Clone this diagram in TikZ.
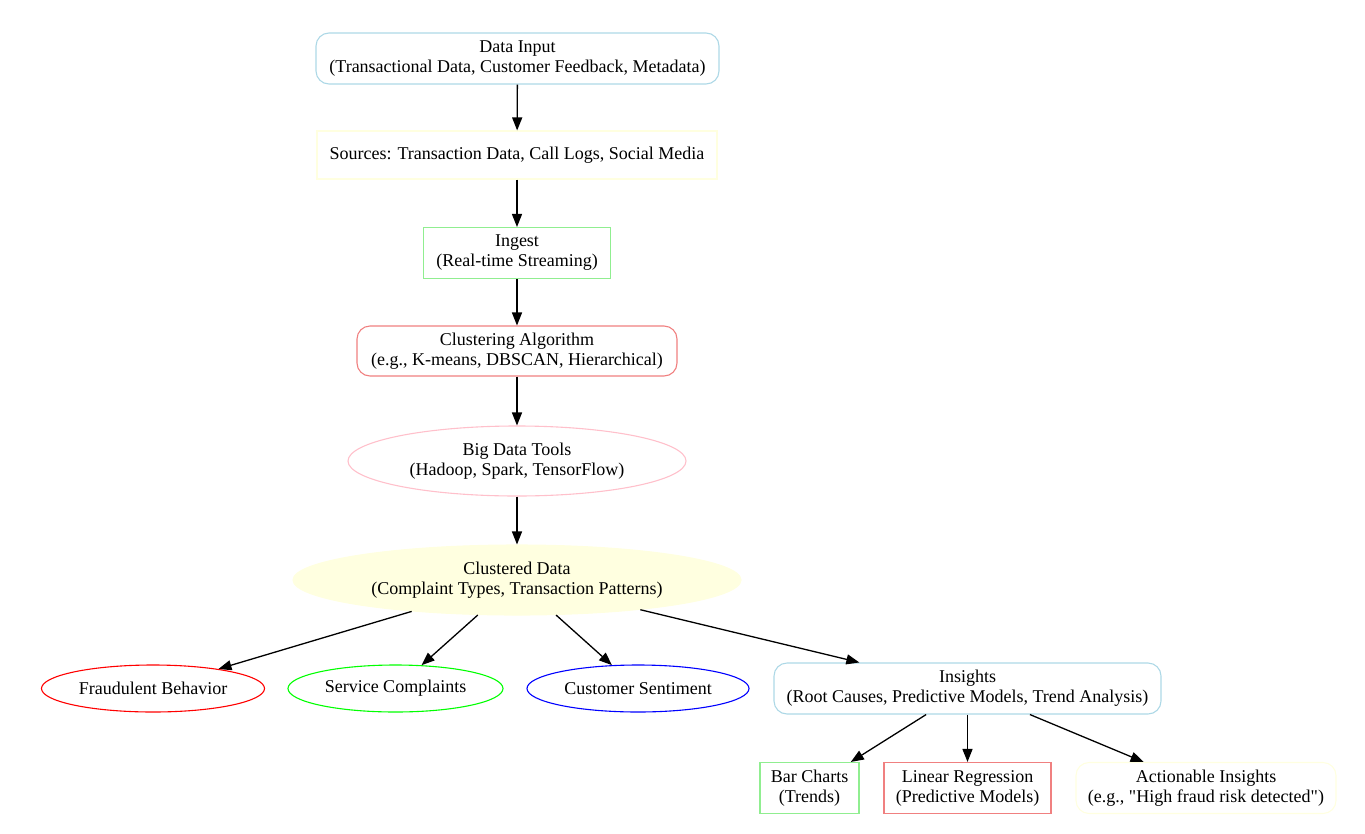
\documentclass[tikz,border=0pt]{standalone}
\usepackage{fontspec}
\setmainfont{Liberation Serif}[Ligatures=TeXOff]
\usetikzlibrary{arrows.meta,shapes.geometric}
\definecolor{gvlightblue}{HTML}{ADD8E6}
\definecolor{gvlightyellow}{HTML}{FFFFE0}
\definecolor{gvlightgreen}{HTML}{90EE90}
\definecolor{gvlightcoral}{HTML}{F08080}
\definecolor{gvpink}{HTML}{FFC0CB}
\definecolor{gvred}{HTML}{FF0000}
\definecolor{gvgreen}{HTML}{00FF00}
\definecolor{gvblue}{HTML}{0000FF}
\tikzset{
  base/.style={align=center,inner sep=0pt,line width=1.1pt,font=\fontsize{18}{20}\selectfont,text=black},
  rbox/.style={base,draw,rectangle,rounded corners=13pt},
  sbox/.style={base,draw,rectangle},
  ell/.style={base,draw,ellipse},
  edge/.style={line width=1.3pt,-{Triangle[length=13pt,width=10pt]}},
}
\begin{document}
\begin{tikzpicture}[x=1pt,y=-1pt]
\useasboundingbox (0,0) rectangle (1365,833);
\node[rbox,draw=gvlightblue,minimum width=403pt,minimum height=51pt] (input) at (517.5,58.5) {Data Input\\(Transactional Data, Customer Feedback, Metadata)};
\node[sbox,draw=gvlightyellow,minimum width=400pt,minimum height=48pt] (sources) at (517,155) {Sources: Transaction Data, Call Logs, Social Media};
\node[sbox,draw=gvlightgreen,minimum width=187pt,minimum height=51pt] (ingest) at (517,253) {Ingest\\(Real-time Streaming)};
\node[rbox,draw=gvlightcoral,minimum width=320pt,minimum height=50pt] (cluster) at (517,351) {Clustering Algorithm\\(e.g., K-means, DBSCAN, Hierarchical)};
\node[ell,draw=gvpink,minimum width=338pt,minimum height=70pt] (tools) at (517,461) {Big Data Tools\\(Hadoop, Spark, TensorFlow)};
\node[ell,draw=gvlightyellow,fill=gvlightyellow,minimum width=448pt,minimum height=70pt] (clustered) at (517,580) {Clustered Data\\(Complaint Types, Transaction Patterns)};
\node[ell,draw=gvred,minimum width=223pt,minimum height=47pt] (fraud) at (153,688.5) {Fraudulent Behavior};
\node[ell,draw=gvgreen,minimum width=215pt,minimum height=47pt] (service) at (395.5,688.5) {Service Complaints};
\node[ell,draw=gvblue,minimum width=222pt,minimum height=47pt] (sentiment) at (638,688.5) {Customer Sentiment};
\node[rbox,draw=gvlightblue,minimum width=387pt,minimum height=51pt] (insights) at (967.5,688.5) {Insights\\(Root Causes, Predictive Models, Trend Analysis)};
\node[sbox,draw=gvlightgreen,minimum width=99pt,minimum height=51pt] (bar) at (809.5,788) {Bar Charts\\(Trends)};
\node[sbox,draw=gvlightcoral,minimum width=167pt,minimum height=51pt] (linreg) at (967.5,788) {Linear Regression\\(Predictive Models)};
\node[rbox,draw=gvlightyellow,minimum width=260pt,minimum height=51pt] (action) at (1206,788) {Actionable Insights\\(e.g., "High fraud risk detected")};
\draw[edge] (input) -- (sources);
\draw[edge] (sources) -- (ingest);
\draw[edge] (ingest) -- (cluster);
\draw[edge] (cluster) -- (tools);
\draw[edge] (tools) -- (clustered);
\draw[edge] (clustered) -- (fraud);
\draw[edge] (clustered) -- (service);
\draw[edge] (clustered) -- (sentiment);
\draw[edge] (clustered) -- (insights);
\draw[edge] (insights) -- (bar);
\draw[edge] (insights) -- (linreg);
\draw[edge] (insights) -- (action);
\end{tikzpicture}
\end{document}
